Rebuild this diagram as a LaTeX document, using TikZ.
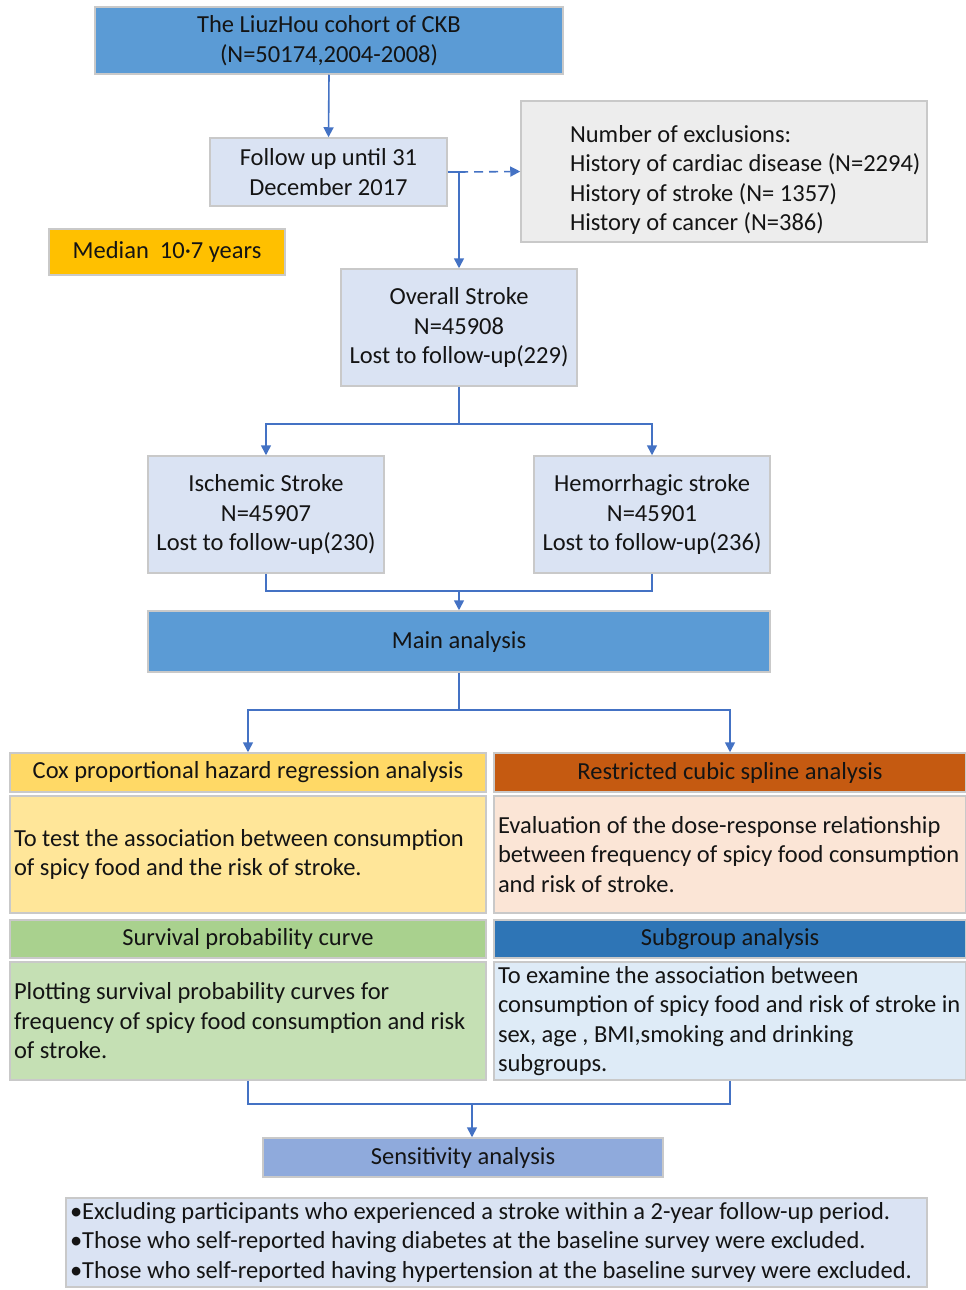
\documentclass[tikz,border=0pt]{standalone}
\usepackage{fontspec}
\setmainfont{Carlito}
\usetikzlibrary{arrows.meta,calc}
\definecolor{bdark}{HTML}{5B9BD5}
\definecolor{blight}{HTML}{DAE3F3}
\definecolor{gbox}{HTML}{EDEDED}
\definecolor{goldc}{HTML}{FFC000}
\definecolor{coxh}{HTML}{FFD966}
\definecolor{coxb}{HTML}{FFE699}
\definecolor{rcsh}{HTML}{C55A11}
\definecolor{rcsb}{HTML}{FBE5D6}
\definecolor{survh}{HTML}{A9D18E}
\definecolor{survb}{HTML}{C5E0B4}
\definecolor{subh}{HTML}{2E75B6}
\definecolor{subb}{HTML}{DEEBF7}
\definecolor{sensc}{HTML}{8FAADC}
\definecolor{arrc}{HTML}{4472C4}
\definecolor{bord}{HTML}{C9C9C9}
\definecolor{txt}{HTML}{141414}
\tikzset{
  bx/.style={draw=bord, line width=1.5pt, inner sep=0pt, text=txt,
    font=\fontsize{24.5}{29.5}\selectfont, align=center},
  lft/.style={align=flush left},
  conn/.style={draw=arrc, line width=1.6pt},
  arr/.style={conn, -{Triangle[length=10pt,width=10pt]}},
  darr/.style={arr, dash pattern=on 9pt off 6pt},
}
\newcommand{\bxat}[7]{% name, x1, y1, x2, y2, style, text
  \node[bx,#6, minimum width={#4-#2}, minimum height={#5-#3}] (#1) at ({(#2+#4)/2},{(#3+#5)/2}) {#7};}
\hbadness=10000 \hfuzz=200pt
\begin{document}
\begin{tikzpicture}[x=1pt,y=-1pt]
\fill[white] (0,0) rectangle (966,1290);
\useasboundingbox (0,0) rectangle (966,1290);

\bxat{top}{95}{7}{563}{74}{fill=bdark}{The LiuzHou cohort of CKB\\(N=50174,2004-2008)}
\bxat{follow}{210}{138}{447}{206}{fill=blight}{Follow up until 31\\December 2017}
\bxat{excl}{521}{101}{927}{242}{fill=gbox, lft, text width=308pt}{\rule{0pt}{34pt}\mbox{Number of exclusions:}\\\mbox{History of cardiac disease (N=2294)}\\\mbox{History of stroke (N= 1357)}\\\mbox{History of cancer (N=386)}}
\bxat{median}{49}{229}{285}{275}{fill=goldc}{Median\ \ 10·7 years}
\bxat{overall}{341}{269}{577}{386}{fill=blight}{Overall Stroke\\N=45908\\Lost to follow-up(229)}
\bxat{isch}{148}{456}{384}{573}{fill=blight}{Ischemic Stroke\\N=45907\\Lost to follow-up(230)}
\bxat{hem}{534}{456}{770}{573}{fill=blight}{Hemorrhagic stroke\\N=45901\\Lost to follow-up(236)}
\bxat{main}{148}{611}{770}{672}{fill=bdark}{Main analysis}
\bxat{cox}{10}{753}{486}{792}{fill=coxh}{Cox proportional hazard regression analysis}
\bxat{rcs}{494}{753}{966}{792}{fill=rcsh}{Restricted cubic spline analysis}
\bxat{coxbody}{10}{796}{486}{913}{fill=coxb, lft, text width=468pt}{To test the association between consumption\\of spicy food and the risk of stroke.}
\bxat{rcsbody}{494}{796}{966}{913}{fill=rcsb, lft, text width=464pt}{Evaluation of the dose-response relationship\\between frequency of spicy food consumption\\and risk of stroke.}
\bxat{surv}{10}{920}{486}{958}{fill=survh}{Survival probability curve}
\bxat{sub}{494}{920}{966}{958}{fill=subh}{Subgroup analysis}
\bxat{survbody}{10}{962}{486}{1080}{fill=survb, lft, text width=468pt}{Plotting survival probability curves for\\frequency of spicy food consumption and risk\\of stroke.}
\bxat{subbody}{494}{962}{966}{1080}{fill=subb, lft, text width=464pt}{To examine the association between\\consumption of spicy food and risk of stroke in\\sex, age , BMI,smoking and drinking\\subgroups.}
\bxat{sens}{263}{1138}{663}{1177}{fill=sensc}{Sensitivity analysis}
\bxat{final}{66}{1198}{927}{1287}{fill=blight, lft, text width=853pt}{•Excluding participants who experienced a stroke within a 2-year follow-up period.\\•Those who self-reported having diabetes at the baseline survey were excluded.\\•Those who self-reported having hypertension at the baseline survey were excluded.}

\coordinate (fj) at (459,172);
\coordinate (s1) at (459,424);
\coordinate (m1) at (459,591);
\coordinate (m2) at (459,710);
\coordinate (m3) at (472,1104);

\draw[arr] (top.south) -- (follow.north);
\draw[conn] (follow.east) -- (fj);
\draw[arr] (fj) -- (overall.north);
\draw[darr] (fj) -- (excl.west);
\draw[conn] (overall.south) -- (s1);
\draw[arr] (s1) -| (isch.north);
\draw[arr] (s1) -| (hem.north);
\draw[conn] (isch.south) |- (m1);
\draw[conn] (hem.south) |- (m1);
\draw[arr] (m1) -- (main.north);
\draw[conn] (main.south) -- (m2);
\draw[arr] (m2) -| (cox.north);
\draw[arr] (m2) -| (rcs.north);
\draw[conn] (survbody.south) |- (m3);
\draw[conn] (subbody.south) |- (m3);
\draw[arr] (m3) -- (m3 |- sens.north);
\end{tikzpicture}
\end{document}
